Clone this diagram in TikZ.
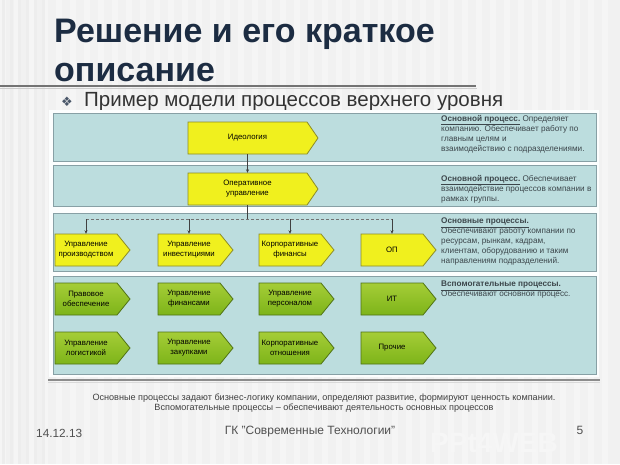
\documentclass[tikz,border=0pt]{standalone}
\usepackage{fontspec}
\setmainfont{Liberation Sans}
\newfontfamily\dejavu{DejaVu Sans}
\usetikzlibrary{arrows.meta}
\definecolor{bg}{RGB}{241,241,241}
\definecolor{titlecol}{RGB}{28,44,66}
\definecolor{bandfill}{RGB}{188,221,222}
\definecolor{bandline}{RGB}{135,160,165}
\definecolor{yfill}{RGB}{240,240,30}
\definecolor{yline}{RGB}{140,140,40}
\definecolor{gtop}{RGB}{165,205,55}
\definecolor{gbot}{RGB}{125,180,25}
\definecolor{gline}{RGB}{80,115,20}
\definecolor{rtextcol}{RGB}{60,70,75}
\definecolor{footcol}{RGB}{80,80,80}
\tikzset{
  band/.style={fill=bandfill, draw=bandline, line width=0.8pt},
  ybox/.style={fill=yfill, draw=yline, line width=0.8pt},
  gbox/.style={top color=gtop, bottom color=gbot, draw=gline, line width=0.8pt},
  boxtext/.style={font=\fontsize{7.8}{10}\selectfont, align=center, text=black, inner sep=0pt},
  rtext/.style={font=\fontsize{8.2}{10}\selectfont, align=left, anchor=north west, inner sep=0pt, text=rtextcol},
  conn/.style={draw=black!75, line width=0.6pt},
  connarrow/.style={conn, -{Stealth[length=3.5pt,width=3pt]}},
}
% #1 name, #2 style, #3 x1, #4 y1, #5 x2, #6 y2, #7 tip depth, #8 text
\newcommand\procbox[8]{%
  \draw[#2] (#3,#4) -- ({#5-#7},#4) -- (#5,{(#4+#6)/2}) -- ({#5-#7},#6) -- (#3,#6) -- cycle;
  \node[boxtext, minimum width={#5-#7-#3}, minimum height={#6-#4}] (#1) at ({(#3+#5-#7)/2},{(#4+#6)/2}) {#8};}
\begin{document}
\begin{tikzpicture}[x=1pt,y=-1pt]
\useasboundingbox (0,0) rectangle (620,464);
\fill[bg] (0,0) rectangle (620,464);
% faint stripes
\foreach \x in {0,14,...,610} \fill[white, opacity=0.35] (\x,0) rectangle ({\x+6},464);
\foreach \x in {2,10,...,42} \fill[black!7] (\x,0) rectangle ({\x+3},464);
% title
\node[anchor=base west, inner sep=0, text=titlecol, font=\fontsize{34}{38}\selectfont\bfseries] (t1) at (54,42) {Решение и его краткое};
\node[anchor=base west, inner sep=0, text=titlecol, font=\fontsize{34}{38}\selectfont\bfseries] (t2) at (54,81) {описание};
\fill[black!20] (0,87.5) rectangle (477,89);
\draw[black!55, line width=1.6pt] (0,86) -- (476,86);
% subtitle
\node[anchor=base west, inner sep=0, text=titlecol!80, font=\dejavu\fontsize{13}{15}\selectfont] (bul) at (61,106) {❖};
\node[anchor=base west, inner sep=0, text=black!80, font=\fontsize{20.5}{22}\selectfont] (sub) at (84,106) {Пример модели процессов верхнего уровня};
% diagram frame
\fill[white!96!bandfill] (49,110) rectangle (599,377);
\draw[band] (53,113) rectangle (596,161);
\draw[band] (53,165) rectangle (596,206);
\draw[band] (53,213) rectangle (596,271);
\draw[band] (53,276) rectangle (596,374);
% boxes
\procbox{b1}{ybox}{188}{122}{318}{154}{11}{Идеология}
\procbox{b2}{ybox}{188}{173}{318}{205}{11}{Оперативное\\управление}
\procbox{yA}{ybox}{55}{234}{130}{266}{13}{Управление\\производством}
\procbox{yB}{ybox}{158}{234}{233}{266}{13}{Управление\\инвестициями}
\procbox{yC}{ybox}{259}{234}{334}{266}{13}{Корпоративные\\финансы}
\procbox{yD}{ybox}{361}{234}{436}{266}{13}{ОП}
\procbox{gA}{gbox}{55}{283}{130}{315}{13}{Правовое\\обеспечение}
\procbox{gB}{gbox}{158}{283}{233}{315}{13}{Управление\\финансами}
\procbox{gC}{gbox}{259}{283}{334}{315}{13}{Управление\\персоналом}
\procbox{gD}{gbox}{361}{283}{436}{315}{13}{ИТ}
\procbox{hA}{gbox}{55}{332}{130}{364}{13}{Управление\\логистикой}
\procbox{hB}{gbox}{158}{332}{233}{364}{13}{Управление\\закупками}
\procbox{hC}{gbox}{259}{332}{334}{364}{13}{Корпоративные\\отношения}
\procbox{hD}{gbox}{361}{332}{436}{364}{13}{Прочие}
% connectors
\coordinate (hub) at (b2.south |- 0,219);
\draw[connarrow] (b1.south) -- (b2.north);
\draw[conn] (b2.south) -- (hub);
\draw[conn, densely dashed, draw=black!55] (yA.north |- hub) -- (yD.north |- hub);
\draw[connarrow] (yA.north |- hub) -- (yA.north);
\draw[connarrow] (yB.north |- hub) -- (yB.north);
\draw[connarrow] (yC.north |- hub) -- (yC.north);
\draw[connarrow] (yD.north |- hub) -- (yD.north);
% right texts
\node[rtext] (r1) at (441,115) {\textbf{\underline{Основной процесс.}} Определяет\\компанию. Обеспечивает работу по\\главным целям и\\взаимодействию с подразделениями.};
\node[rtext] (r2) at (441,175) {\textbf{\underline{Основной процесс.}} Обеспечивает\\взаимодействие процессов компании в\\рамках группы.};
\node[rtext] (r3) at (441,218) {\textbf{\underline{Основные процессы.}}\\Обеспечивают работу компании по\\ресурсам, рынкам, кадрам,\\клиентам, оборудованию и таким\\направлениям подразделений.};
\node[rtext] (r4) at (441,281) {\textbf{\underline{Вспомогательные процессы.}}\\Обеспечивают основной процесс.};
% bottom rule
\fill[black!15] (48,381.5) rectangle (600,383);
\draw[black!45, line width=1.2pt] (48,380) -- (600,380);
% footer explanation
\node[font=\fontsize{9.1}{10.8}\selectfont, align=center, text=black!75, inner sep=0] (expl) at (324,403) {Основные процессы задают бизнес-логику компании, определяют развитие, формируют ценность компании.\\Вспомогательные процессы -- обеспечивают деятельность основных процессов};
% watermark
\node[anchor=base west, inner sep=0, text=white!35!bg, font=\fontsize{28}{30}\selectfont\bfseries] (wm) at (430,452) {PPt4WEB};
% footer
\node[anchor=base west, inner sep=0, text=footcol, font=\fontsize{11.8}{13}\selectfont] (date) at (36,437) {14.12.13};
\node[anchor=base, inner sep=0, text=footcol, font=\fontsize{12}{13}\selectfont] (org) at (310,434) {ГК "Современные Технологии"};
\node[anchor=base, inner sep=0, text=footcol, font=\fontsize{12}{13}\selectfont] (pg) at (580,434) {5};
\end{tikzpicture}
\end{document}
